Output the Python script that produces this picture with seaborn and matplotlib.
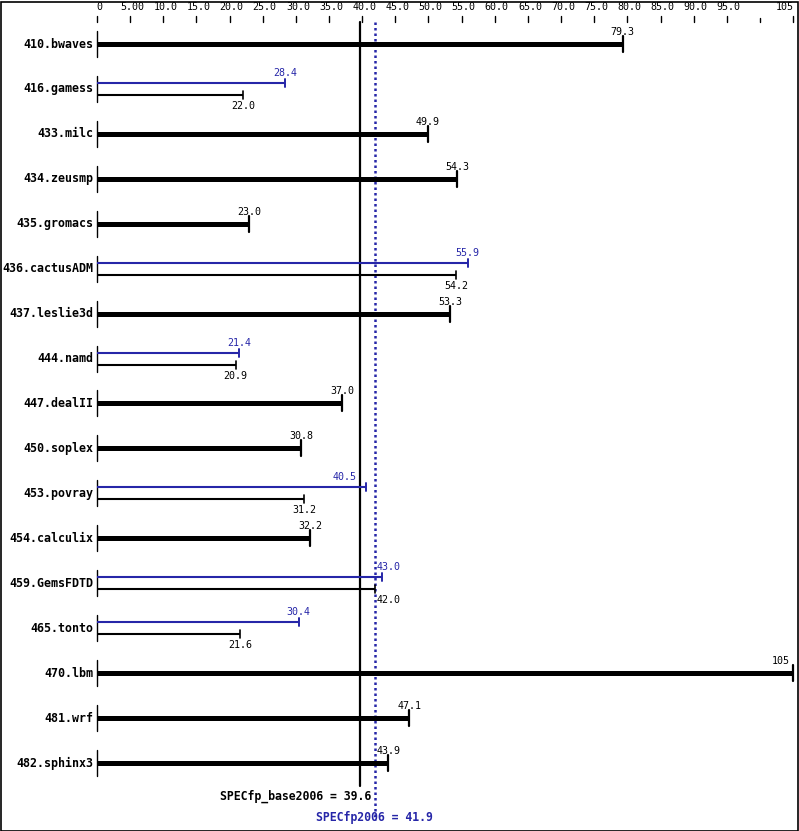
import matplotlib
matplotlib.use("Agg")
import matplotlib.pyplot as plt
import seaborn as sns
from matplotlib.patches import Rectangle

benchmarks = ["410.bwaves", "416.gamess", "433.milc", "434.zeusmp", "435.gromacs",
              "436.cactusADM", "437.leslie3d", "444.namd", "447.dealII", "450.soplex",
              "453.povray", "454.calculix", "459.GemsFDTD", "465.tonto", "470.lbm",
              "481.wrf", "482.sphinx3"]
base = [79.3, 22.0, 49.9, 54.3, 23.0, 54.2, 53.3, 20.9, 37.0, 30.8,
        31.2, 32.2, 42.0, 21.6, 105, 47.1, 43.9]
peak = [79.3, 28.4, 49.9, 54.3, 23.0, 55.9, 53.3, 21.4, 37.0, 30.8,
        40.5, 32.2, 43.0, 30.4, 105, 47.1, 43.9]
tick_values = [0, 5, 10, 15, 20, 25, 30, 35, 40, 45, 50, 55, 60, 65, 70, 75, 80, 85, 90, 95, 100, 105]
tick_labels = ["0", "5.00", "10.0", "15.0", "20.0", "25.0", "30.0", "35.0", "40.0", "45.0",
               "50.0", "55.0", "60.0", "65.0", "70.0", "75.0", "80.0", "85.0", "90.0", "95.0", "", "105"]
base_score = 39.6
peak_score = 41.9

sns.set_style("white")
MONO = ["DejaVu Sans Mono"]
BLUE = "#2626a8"
BLACK = "black"

W, H = 799, 831
fig = plt.figure(figsize=(W / 100, H / 100), dpi=100)
ax = fig.add_axes([0, 0, 1, 1])
ax.axis("off")

x0px = 97
sx = 6.63
ax.set_xlim(-x0px / sx, (W - x0px) / sx)
y0px, rowpx = 44, (763 - 44) / 16.0
ax.set_ylim(16 + (H - 763) / rowpx, -y0px / rowpx)

def py(p):
    return (p - y0px) / rowpx

def dy(p):
    return p / rowpx

# frame
fig.patches.append(Rectangle((0.5 / W, 0.5 / H), (W - 2) / W, (H - 2) / H,
                             transform=fig.transFigure, fill=False, lw=1.2, ec="black"))

# top scale
for v, lab in zip(tick_values, tick_labels):
    short = (lab == "")
    ax.plot([v, v], [py(16 if not short else 18), py(22)], color=BLACK, lw=1)
    if lab:
        xoff = -1.2 if v == 105 else 0.3
        ax.text(v + xoff, py(7), lab, ha="center", va="center", fontsize=7.2,
                family=MONO, color=BLACK)

# reference lines
ax.plot([base_score, base_score], [py(22), py(786)], color=BLACK, lw=1.6)
ax.plot([peak_score, peak_score], [py(22), py(820)], color=BLUE, lw=1.8, linestyle=(0, (1, 1.2)))
ax.text((371 - x0px) / sx, py(796), f"SPECfp_base2006 = {base_score}", ha="right", va="center",
        fontsize=8.3, fontweight="bold", family=MONO, color=BLACK)
ax.text(peak_score, py(818), f"SPECfp2006 = {peak_score}", ha="center", va="center",
        fontsize=8.3, fontweight="bold", family=MONO, color=BLUE)

def fmt(v):
    return f"{v:.0f}" if v >= 100 else f"{v:.1f}"

def label(v, y, color):
    half = 2.0
    if v >= 100:
        ax.text(v - 0.5, y, fmt(v), ha="right", va="center", fontsize=7.2, family=MONO, color=color)
    elif v - half <= base_score <= v + half or v - half <= peak_score <= v + half:
        if v < base_score + 1.0:
            ax.text(base_score - 0.5, y, fmt(v), ha="right", va="center", fontsize=7.2,
                    family=MONO, color=color)
        else:
            ax.text(peak_score + 0.2, y, fmt(v), ha="left", va="center", fontsize=7.2,
                    family=MONO, color=color)
    else:
        ax.text(v, y, fmt(v), ha="center", va="center", fontsize=7.2, family=MONO, color=color)

for i, (name, b, p) in enumerate(zip(benchmarks, base, peak)):
    ax.text(-0.6, i, name, ha="right", va="center", fontsize=8.4, fontweight="bold",
            family=MONO, color=BLACK)
    ax.plot([0, 0], [i - dy(13), i + dy(13)], color=BLACK, lw=1)
    if b == p:
        ax.hlines(i, 0, b, color=BLACK, lw=3.6)
        ax.plot([b, b], [i - dy(8), i + dy(8)], color=BLACK, lw=1.6)
        label(b, i - dy(12), BLACK)
    else:
        yp, yb = i - dy(6), i + dy(6)
        ax.hlines(yp, 0, p, color=BLUE, lw=1.5)
        ax.plot([p, p], [yp - dy(4), yp + dy(4)], color=BLUE, lw=1.4)
        label(p, yp - dy(10), BLUE)
        ax.hlines(yb, 0, b, color=BLACK, lw=1.5)
        ax.plot([b, b], [yb - dy(4), yb + dy(4)], color=BLACK, lw=1.2)
        label(b, yb + dy(11), BLACK)

fig.savefig("out.png", dpi=100)
